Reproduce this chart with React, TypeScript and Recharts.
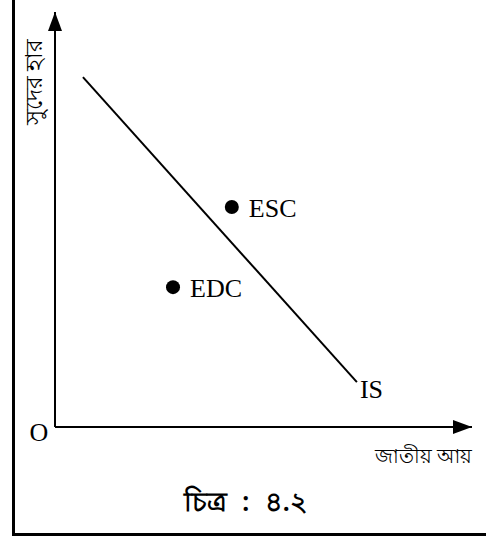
import { ComposedChart, LabelList, Line, ReferenceDot, ReferenceLine, Scatter, XAxis, YAxis } from "recharts";

// IS curve end points (data units, axes run 0..100)
const isX = [6.7, 72.4];
const isY = [84.3, 10.8];
const isNames = ["", "IS"];

// equilibrium points
const pointNames = ["ESC", "EDC"];
const pointX = [42.4, 28.3];
const pointY = [53.0, 33.7];

const axisMax = 100;
const originText = "O";
const yTitle = "সুদের হার";
const xTitle = "জাতীয় আয়";
const caption = "চিত্র : ৪.২";

const serif = "'Liberation Serif', 'Times New Roman', serif";
const bangla = "'Noto Sans', sans-serif";

const isData = isX.map((x, i) => ({ x, y: isY[i], name: isNames[i] }));
const points = pointNames.map((name, i) => ({ name, x: pointX[i], y: pointY[i] }));

/** IS curve figure with two equilibrium points. */
export default function App() {
  return (
    <div style={{ position: "absolute", left: 0, top: 0, width: 486, height: 537, background: "#fff" }}>
      <div
        style={{
          position: "absolute",
          left: 12,
          top: 0,
          width: 474,
          height: 536,
          boxSizing: "border-box",
          borderLeft: "3px solid #000",
          borderBottom: "3px solid #000",
        }}
      />
      <ComposedChart
        width={486}
        height={537}
        margin={{ top: 12, right: 14, bottom: 110, left: 55 }}
        style={{ position: "absolute", left: 0, top: 0 }}
      >
        <XAxis type="number" dataKey="x" domain={[0, axisMax]} hide />
        <YAxis type="number" dataKey="y" domain={[0, axisMax]} hide />
        <ReferenceLine segment={[{ x: 0, y: 0 }, { x: axisMax, y: 0 }]} stroke="#000" strokeWidth={2} ifOverflow="visible" />
        <ReferenceLine segment={[{ x: 0, y: 0 }, { x: 0, y: axisMax }]} stroke="#000" strokeWidth={2} ifOverflow="visible" />
        <ReferenceDot
          x={0}
          y={axisMax}
          ifOverflow="visible"
          shape={({ cx, cy }: any) => <path d={`M${cx},${cy} L${cx - 7},${cy + 19} L${cx + 7},${cy + 19} Z`} fill="#000" />}
        />
        <ReferenceDot
          x={axisMax}
          y={0}
          ifOverflow="visible"
          shape={({ cx, cy }: any) => <path d={`M${cx},${cy} L${cx - 19},${cy - 7} L${cx - 19},${cy + 7} Z`} fill="#000" />}
        />
        <ReferenceDot
          x={0}
          y={0}
          ifOverflow="visible"
          shape={({ cx, cy }: any) => (
            <text x={cx - 16} y={cy + 5} textAnchor="middle" dominantBaseline="central" fontFamily={serif} fontSize={26} fill="#000">
              {originText}
            </text>
          )}
        />
        <Line data={isData} dataKey="y" stroke="#000" strokeWidth={2} dot={false} activeDot={false} isAnimationActive={false}>
          <LabelList
            dataKey="name"
            content={({ x, y, value }: any) =>
              value ? (
                <text x={x + 3} y={y + 7} dominantBaseline="central" fontFamily={serif} fontSize={26} fill="#000">
                  {value}
                </text>
              ) : null
            }
          />
        </Line>
        <Scatter
          data={points}
          fill="#000"
          isAnimationActive={false}
          shape={({ cx, cy }: any) => <circle cx={cx} cy={cy} r={7} fill="#000" />}
        >
          <LabelList
            dataKey="name"
            content={({ x, y, width, height, value }: any) => (
              <text
                x={x + (width || 0) / 2 + 17}
                y={y + (height || 0) / 2 + 1}
                dominantBaseline="central"
                fontFamily={serif}
                fontSize={26}
                fill="#000"
              >
                {value}
              </text>
            )}
          />
        </Scatter>
      </ComposedChart>
      <div
        style={{
          position: "absolute",
          left: 33,
          top: 82,
          transform: "translate(-50%, -50%) rotate(-90deg)",
          whiteSpace: "nowrap",
          fontFamily: bangla,
          fontSize: 23,
          lineHeight: 1,
        }}
      >
        {yTitle}
      </div>
      <div
        style={{
          position: "absolute",
          right: 14,
          top: 456,
          transform: "translateY(-50%)",
          whiteSpace: "nowrap",
          fontFamily: bangla,
          fontSize: 20,
          lineHeight: 1,
        }}
      >
        {xTitle}
      </div>
      <div
        style={{
          position: "absolute",
          left: 246,
          top: 500,
          transform: "translate(-50%, -50%)",
          whiteSpace: "nowrap",
          fontFamily: bangla,
          fontSize: 27,
          fontWeight: 600,
          wordSpacing: 8,
          lineHeight: 1,
        }}
      >
        {caption}
      </div>
    </div>
  );
}
